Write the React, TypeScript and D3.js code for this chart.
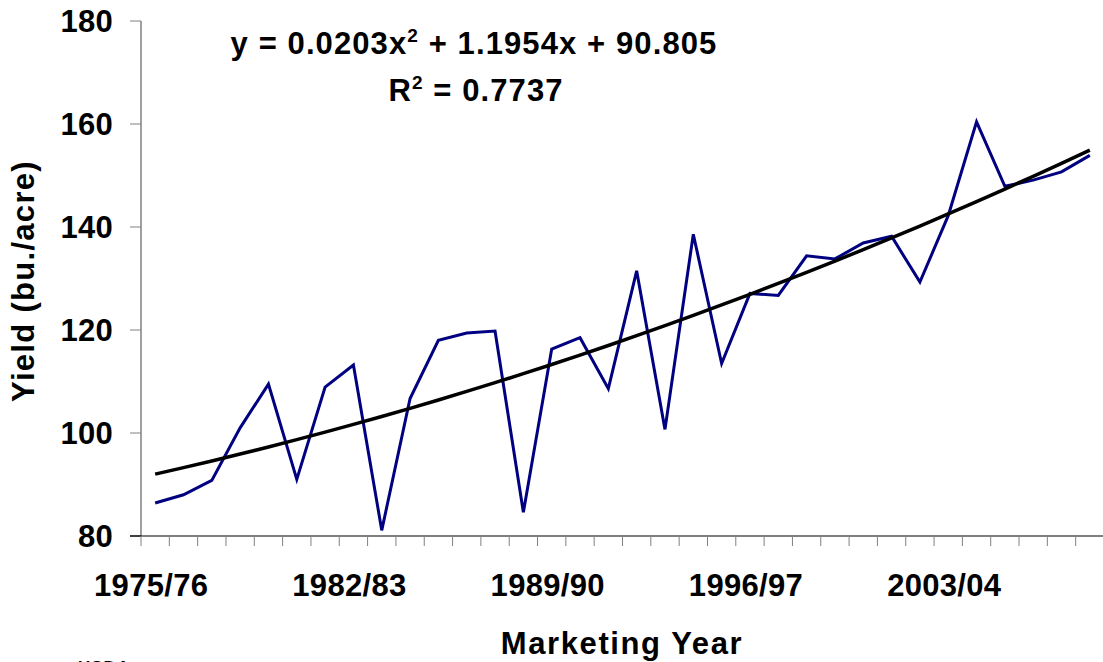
import React from 'react';
import * as d3 from 'd3';

// US corn yield by marketing year
const years = [
  '1975/76', '1976/77', '1977/78', '1978/79', '1979/80', '1980/81', '1981/82', '1982/83',
  '1983/84', '1984/85', '1985/86', '1986/87', '1987/88', '1988/89', '1989/90', '1990/91',
  '1991/92', '1992/93', '1993/94', '1994/95', '1995/96', '1996/97', '1997/98', '1998/99',
  '1999/00', '2000/01', '2001/02', '2002/03', '2003/04', '2004/05', '2005/06', '2006/07',
  '2007/08', '2008/09',
];
const yieldValues = [
  86.4, 88.0, 90.8, 101.0, 109.5, 91.0, 108.9, 113.2,
  81.1, 106.7, 118.0, 119.4, 119.8, 84.6, 116.3, 118.5,
  108.6, 131.5, 100.7, 138.6, 113.5, 127.1, 126.7, 134.4,
  133.8, 136.9, 138.2, 129.3, 142.2, 160.4, 147.9, 149.1,
  150.7, 153.9,
];
const xLabels = ['1975/76', '1982/83', '1989/90', '1996/97', '2003/04'];
const yTicks = [80, 100, 120, 140, 160, 180];
// polynomial trendline shown on the chart
const trendCoef = [0.0203, 1.1954, 90.805];

const W = 1103;
const H = 662;
const left = 141;
const right = 1104;
const top = 21;
const bottom = 536;
const font = 'Arial, "Liberation Sans", sans-serif';

export default function App() {
  const x = d3.scaleLinear().domain([0, years.length]).range([left, right]);
  const y = d3.scaleLinear().domain([80, 180]).range([bottom, top]);

  const line = d3.line<number>()
    .x((_, i) => x(i + 0.5))
    .y(d => y(d));

  const trend = years.map((_, i) => {
    const t = i + 1;
    return trendCoef[0] * t * t + trendCoef[1] * t + trendCoef[2];
  });

  const txt = { fontFamily: font, fontWeight: 700, fill: '#000' } as const;

  return (
    <svg width={W} height={H} style={{ position: 'absolute', left: 0, top: 0, display: 'block' }}>
      <rect width={W} height={H} fill="#fff" />

      {/* y axis */}
      <line x1={left} x2={left} y1={top} y2={bottom} stroke="#808080" strokeWidth={1.5} />
      {yTicks.map(t => (
        <g key={t}>
          <line x1={left - 11} x2={left} y1={y(t)} y2={y(t)} stroke={t === 80 ? '#000' : '#808080'} strokeWidth={1} />
          <text x={113} y={y(t)} dy="0.36em" textAnchor="end" fontSize={31} letterSpacing={0.3} style={txt}>
            {t}
          </text>
        </g>
      ))}

      {/* x axis */}
      <line x1={left - 11} x2={right} y1={bottom} y2={bottom} stroke="#000" strokeWidth={1.2} />
      {d3.range(0, years.length + 1).map(i => (
        <line key={i} x1={x(i)} x2={x(i)} y1={bottom} y2={bottom + 10} stroke="#808080" strokeWidth={1} />
      ))}
      {xLabels.map(l => {
        const i = years.indexOf(l);
        return (
          <text key={l} x={x(i + 0.5) - 4} y={596} textAnchor="middle" fontSize={31} letterSpacing={0.3} style={txt}>
            {l}
          </text>
        );
      })}

      {/* series */}
      <path d={line(yieldValues) || ''} fill="none" stroke="#000080" strokeWidth={3} strokeLinejoin="miter" />
      <path d={d3.line<number>().x((_, i) => x(i + 0.5)).y(d => y(d)).curve(d3.curveMonotoneX)(trend) || ''}
        fill="none" stroke="#000" strokeWidth={3.5} />

      {/* equation */}
      <text x={474} y={54} textAnchor="middle" fontSize={31} letterSpacing={1.1} style={txt}>
        y = 0.0203x<tspan fontSize={19} dy={-12}>2</tspan><tspan dy={12}> + 1.1954x + 90.805</tspan>
      </text>
      <text x={476} y={101} textAnchor="middle" fontSize={31} letterSpacing={1.1} style={txt}>
        R<tspan fontSize={19} dy={-12}>2</tspan><tspan dy={12}> = 0.7737</tspan>
      </text>

      {/* axis titles */}
      <text transform="translate(34,281) rotate(-90)" textAnchor="middle" fontSize={31} letterSpacing={1.3} style={txt}>
        Yield (bu./acre)
      </text>
      <text x={622} y={654} textAnchor="middle" fontSize={31} letterSpacing={1.6} style={txt}>
        Marketing Year
      </text>

      <text x={78} y={673} fontSize={17} letterSpacing={1} style={txt}>USDA</text>
    </svg>
  );
}
